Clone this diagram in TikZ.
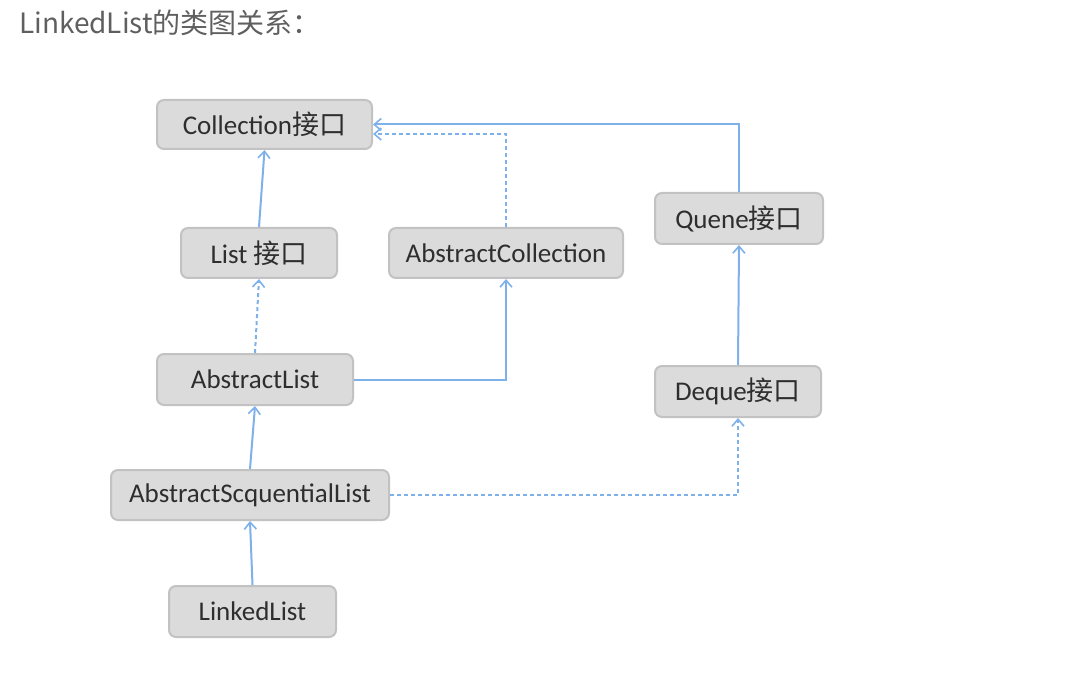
\documentclass[tikz,border=0pt]{standalone}
\usepackage{fontspec}
\setmainfont{Carlito}
\newfontfamily\cjk{Noto Sans CJK SC}
\usetikzlibrary{arrows.meta}
\definecolor{lnblue}{HTML}{7EB0EA}
\definecolor{boxfill}{HTML}{DBDBDB}
\definecolor{boxline}{HTML}{C2C2C2}
\definecolor{txt}{HTML}{2E2E2E}
\definecolor{titlegray}{HTML}{5F5F5F}
\begin{document}
\begin{tikzpicture}[x=1pt,y=-1pt,
 cls/.style={draw=boxline, line width=2pt, fill=boxfill, rounded corners=7pt, inner sep=0pt, text=txt, font=\fontsize{27}{30}\selectfont},
 rel/.style={draw=lnblue, line width=2pt, -{Straight Barb[length=7pt,width=12pt,line width=1.6pt]}},
 impl/.style={rel, dash pattern=on 4pt off 3pt}]
\useasboundingbox (0,0) rectangle (1086,684);
\node[anchor=base west, font=\cjk\fontsize{28}{32}\selectfont, text=titlegray, inner sep=0pt] (title) at (19,34) {LinkedList的类图关系：};
\node[cls, minimum width=215pt, minimum height=49pt] (coll) at (264.5,124.5) {Collection{\cjk 接口}};
\node[cls, minimum width=156pt, minimum height=50pt] (list) at (259,253) {List {\cjk 接口}};
\node[cls, minimum width=234pt, minimum height=50pt] (acoll) at (506,253) {AbstractCollection};
\node[cls, minimum width=168pt, minimum height=51pt] (quene) at (739,218.5) {Quene{\cjk 接口}};
\node[cls, minimum width=196pt, minimum height=51pt] (alist) at (255,379.5) {AbstractList};
\node[cls, minimum width=166pt, minimum height=51pt] (deque) at (738,391.5) {Deque{\cjk 接口}};
\node[cls, minimum width=278pt, minimum height=50pt] (asl) at (250,495) {AbstractScquentialList};
\node[cls, minimum width=167pt, minimum height=51pt] (linked) at (252.5,611.5) {LinkedList};
\draw[rel] (list.north) -- (coll.south);
\draw[impl] (acoll.north) |- ([yshift=-9.5pt]coll.east);
\draw[rel] (quene.north) |- (coll.east);
\draw[rel] (deque.north) -- (quene.south);
\draw[impl] (asl.east) -| (deque.south);
\draw[rel] (alist.east) -| (acoll.south);
\draw[impl] (alist.north) -- (list.south);
\draw[rel] (asl.north) -- (alist.south);
\draw[rel] (linked.north) -- (asl.south);
\end{tikzpicture}
\end{document}
